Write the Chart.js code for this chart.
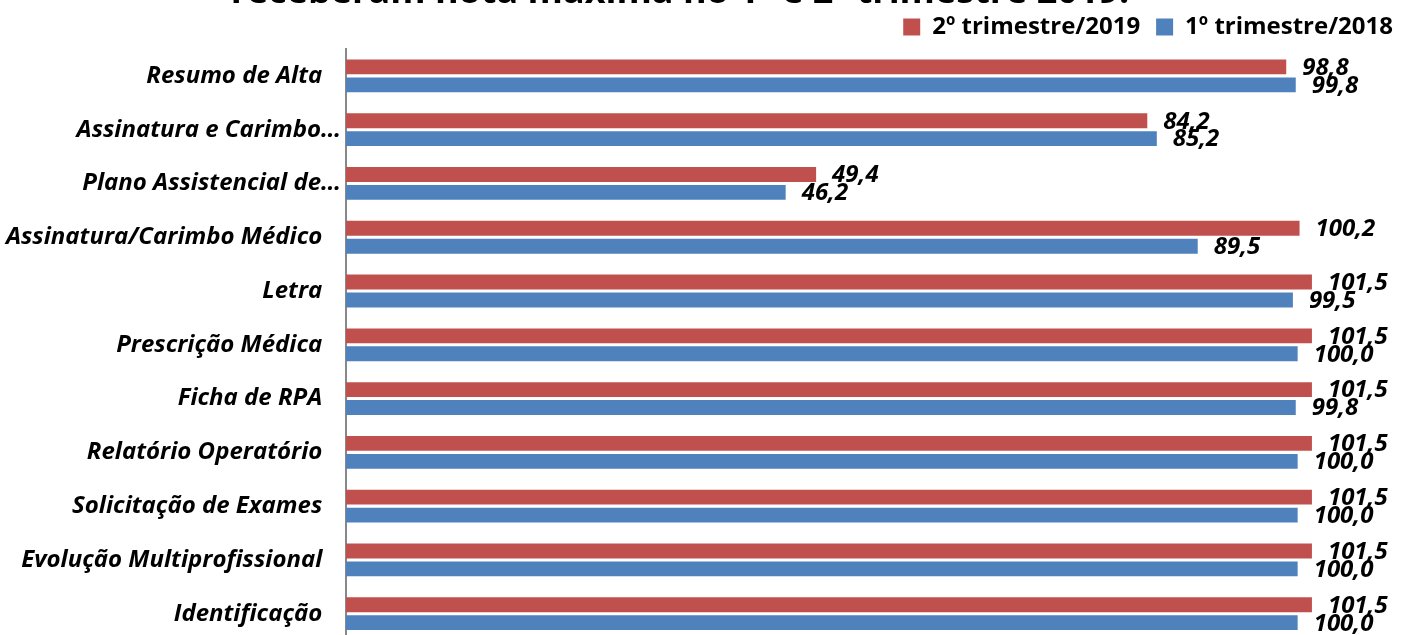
<!DOCTYPE html>
<html>
<head>
<meta charset="utf-8">
<script src="https://cdn.jsdelivr.net/npm/chart.js@4/dist/chart.umd.min.js"></script>
<style>
  html, body { margin: 0; padding: 0; background: #fff; overflow: hidden; }
  #wrap { position: absolute; left: 0; top: 0; width: 1409px; height: 660px; }
</style>
</head>
<body>
<div id="wrap"><canvas id="chart" width="1409" height="660"></canvas></div>
<script>
const titleText = "receberam nota máxima no 1º e 2º trimestre 2019.";

const categories = [
  "Resumo de Alta   ",
  "Assinatura e Carimbo…",
  "Plano Assistencial de…",
  "Assinatura/Carimbo Médico   ",
  "Letra   ",
  "Prescrição Médica   ",
  "Ficha de RPA   ",
  "Relatório Operatório   ",
  "Solicitação de Exames   ",
  "Evolução Multiprofissional   ",
  "Identificação   "
];

const trimestre2019 = [98.8, 84.2, 49.4, 100.2, 101.5, 101.5, 101.5, 101.5, 101.5, 101.5, 101.5];
const trimestre2018 = [99.8, 85.2, 46.2, 89.5, 99.5, 100.0, 99.8, 100.0, 100.0, 100.0, 100.0];

const seriesNames = ["2º trimestre/2019", "1º trimestre/2018"];

const RED  = "#C0504D";
const BLUE = "#4F81BD";
const FONT = "'Open Sans'";

// title is cut off at the top of the picture, only its bottom shows
const titlePlugin = {
  id: "cutTitle",
  afterDraw(chart) {
    const ctx = chart.ctx;
    ctx.save();
    ctx.font = "bold 36px " + FONT;
    ctx.fillStyle = "#000";
    ctx.textAlign = "center";
    ctx.textBaseline = "alphabetic";
    ctx.fillText(titleText, 680, 3);
    ctx.restore();
  }
};

// value labels at the end of each bar
const valueLabels = {
  id: "valueLabels",
  afterDatasetsDraw(chart) {
    const ctx = chart.ctx;
    ctx.save();
    ctx.font = "italic bold 24px " + FONT;
    ctx.fillStyle = "#000";
    ctx.textAlign = "left";
    ctx.textBaseline = "middle";
    chart.data.datasets.forEach((ds, i) => {
      chart.getDatasetMeta(i).data.forEach((bar, j) => {
        const txt = ds.data[j].toFixed(1).replace(".", ",");
        ctx.fillText(txt, bar.x + 16, bar.y + 1);
      });
    });
    ctx.restore();
  }
};

new Chart(document.getElementById("chart"), {
  type: "bar",
  data: {
    labels: categories,
    datasets: [
      { label: seriesNames[0], data: trimestre2019, backgroundColor: RED },
      { label: seriesNames[1], data: trimestre2018, backgroundColor: BLUE }
    ]
  },
  options: {
    indexAxis: "y",
    responsive: false,
    animation: false,
    devicePixelRatio: 1,
    categoryPercentage: 0.667,
    barPercentage: 0.83,
    layout: { padding: { left: 0, right: 0, top: -1, bottom: 3 } },
    plugins: {
      title: { display: false },
      tooltip: { enabled: false },
      legend: {
        position: "top",
        align: "end",
        labels: {
          boxWidth: 17,
          boxHeight: 17,
          padding: 16,
          color: "#000",
          font: { family: FONT, weight: "bold", size: 24 }
        }
      }
    },
    scales: {
      x: { display: false, min: 0, max: 111.7 },
      y: {
        afterFit(axis) { axis.width = 346; },
        grid: { display: false, drawTicks: false },
        border: { display: true, color: "#888888", width: 2 },
        ticks: {
          padding: 5,
          color: "#000",
          font: { family: FONT, weight: "bold", style: "italic", size: 24 }
        }
      }
    }
  },
  plugins: [titlePlugin, valueLabels]
});
</script>
</body>
</html>
